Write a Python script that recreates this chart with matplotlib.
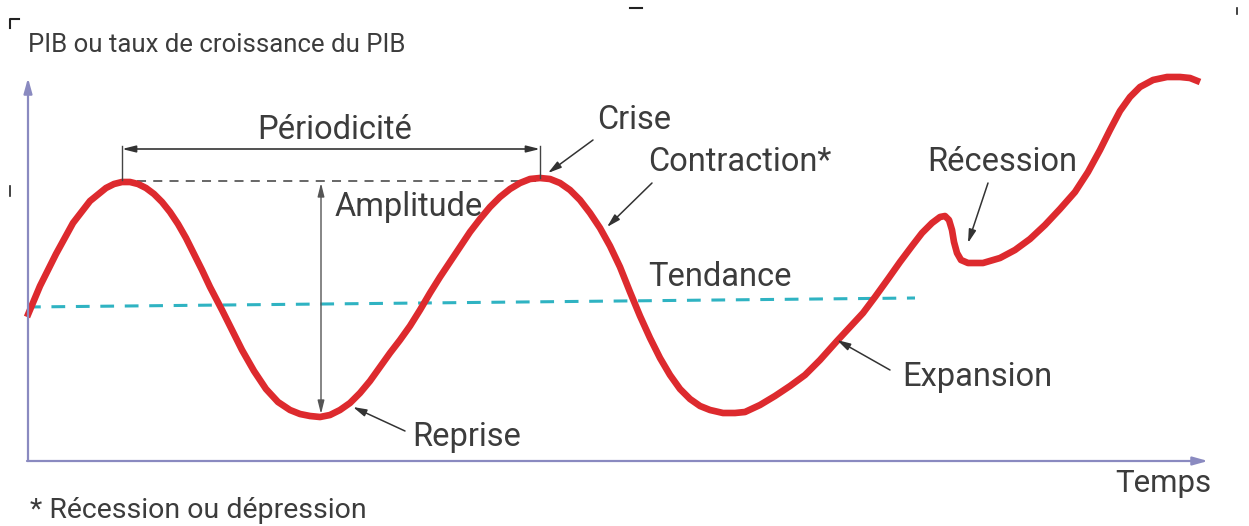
import matplotlib.pyplot as plt
import matplotlib as mpl

mpl.rcParams['font.family'] = ['Roboto', 'DejaVu Sans']

# cycle curve (time, PIB level)
temps = [27, 40, 56, 73, 90, 106, 114, 122, 130, 138, 146, 154, 162, 170, 178,
         186, 194, 202, 210, 222, 232, 242, 254, 266, 278, 290, 300, 310, 320,
         330, 340, 350, 360, 370, 380, 390, 400, 410, 420, 430, 440, 450, 460,
         470, 480, 490, 500, 510, 520, 530, 540, 550, 560, 570, 580, 590, 600,
         610, 620, 630, 640, 650, 660, 670, 680, 690, 700, 710, 723, 735, 745,
         760, 775, 790, 805, 820, 837, 850, 863, 875, 888, 900, 912, 922, 932,
         940, 945, 949, 952, 954, 957, 961, 968, 983, 1000, 1015, 1030, 1045,
         1060, 1075, 1088, 1100, 1110, 1120, 1130, 1140, 1153, 1167, 1180,
         1190, 1200]
pib = [209, 240, 272, 303, 325, 338, 342, 344, 344, 342, 338, 332, 324, 314, 302,
       288, 272, 256, 239, 216, 196, 176, 155, 137, 124, 116, 112, 110, 109,
       111, 116, 123, 133, 145, 159, 173, 186, 200, 216, 233, 249, 264, 279,
       294, 307, 319, 329, 337, 343, 347, 348, 347, 343, 336, 326, 313, 298,
       280, 259, 234, 210, 188, 168, 151, 137, 127, 120, 116, 113, 113, 114,
       121, 130, 140, 151, 166, 185, 199, 213, 229, 247, 264, 280, 293, 303,
       309, 310, 306, 296, 284, 273, 266, 263, 263, 268, 276, 287, 301,
       317, 334, 354, 376, 396, 415, 429, 439, 446, 449, 449,
       448, 444]

tendance_x = [27, 915]
tendance_y = [219, 228]

pic1 = (122, 345)
pic2 = (540, 345)
creux1 = (321, 112)

axe_col = '#8a8ac0'
txt_col = '#3c3c3c'
rouge = '#dd2a2e'
cyan = '#2fb3c2'

fig = plt.figure(figsize=(12.49, 5.26), dpi=100)
ax = fig.add_axes([0, 0, 1, 1])
ax.set_xlim(0, 1249)
ax.set_ylim(0, 526)
ax.axis('off')

# axes with arrows
ax.annotate('', xy=(28, 448), xytext=(28, 65),
            arrowprops=dict(arrowstyle='-|>,head_length=0.9,head_width=0.25',
                            color=axe_col, lw=1.6, shrinkA=0, shrinkB=0))
ax.annotate('', xy=(1208, 65), xytext=(27, 65),
            arrowprops=dict(arrowstyle='-|>,head_length=0.9,head_width=0.25',
                            color=axe_col, lw=1.6, shrinkA=0, shrinkB=0))

# trend
ax.plot(tendance_x, tendance_y, color=cyan, lw=2.2, dashes=(4.5, 3.5))

# grey dashed peak level
ax.plot([pic1[0] + 15, pic2[0]], [pic1[1], pic2[1]], color='#5a5a5a', lw=1.3, dashes=(5, 4))

# curve
ax.plot(temps, pib, color=rouge, lw=4.8, solid_capstyle='butt', solid_joinstyle='round')

# periodicite
ax.plot([pic1[0], pic1[0]], [346, 380], color='#444', lw=1)
ax.plot([pic2[0], pic2[0]], [348, 380], color='#444', lw=1)
ax.annotate('', xy=(pic1[0], 377), xytext=(pic2[0], 377),
            arrowprops=dict(arrowstyle='<|-|>,head_length=0.8,head_width=0.2',
                            color='#333', lw=1.2, shrinkA=0, shrinkB=0))
ax.text(257, 396, 'Périodicité', ha='left', va='center', fontsize=23.5, color=txt_col)

# amplitude
ax.annotate('', xy=(creux1[0], 343), xytext=(creux1[0], creux1[1]),
            arrowprops=dict(arrowstyle='<|-|>,head_length=0.8,head_width=0.2',
                            color='#555', lw=1.0, shrinkA=0, shrinkB=0))
ax.text(335, 319, 'Amplitude', ha='left', va='center', fontsize=23.5, color=txt_col)

arrow = dict(arrowstyle='-|>,head_length=0.8,head_width=0.22', color='#333', lw=1.1,
             shrinkA=0, shrinkB=0)
labels = [('Crise', (597, 406), (548, 353), (593, 386)),
          ('Contraction*', (648, 364), (607, 299), (652, 343)),
          ('Récession', (927, 364), (968, 283), (988, 343)),
          ('Expansion', (902, 149), (837, 186), (890, 156)),
          ('Reprise', (412, 89), (353, 119), (405, 95))]
for txt, pos, head, tail in labels:
    ax.text(pos[0], pos[1], txt, ha='left', va='center', fontsize=23.5, color=txt_col)
    ax.annotate('', xy=head, xytext=tail, arrowprops=arrow)

ax.text(648, 249, 'Tendance', ha='left', va='center', fontsize=23.5, color=txt_col)
ax.text(28, 481, 'PIB ou taux de croissance du PIB', ha='left', va='center',
        fontsize=18.5, color=txt_col)
ax.text(1115, 43, 'Temps', ha='left', va='center', fontsize=22.5, color=txt_col)
ax.text(30, 16, '* Récession ou dépression', ha='left', va='center', fontsize=20.5,
        color=txt_col)

# scan crop marks
ax.plot([10, 10, 19], [498, 507, 507], color='#222', lw=1.5)
ax.plot([630, 642], [518, 518], color='#222', lw=1.5)
ax.plot([1237, 1237], [512, 518], color='#222', lw=1.2)
ax.plot([10, 10], [330, 340], color='#222', lw=1.2)

fig.savefig('out.png', dpi=100)
